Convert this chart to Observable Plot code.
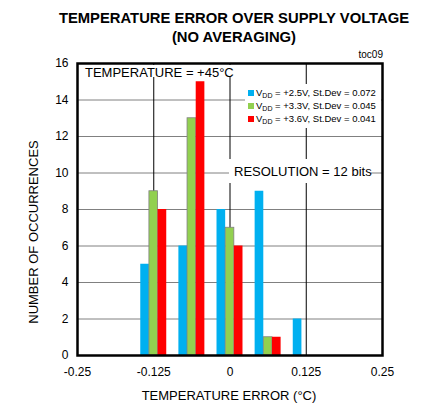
<!DOCTYPE html>
<html>
<head>
<meta charset="utf-8">
<script src="https://cdn.jsdelivr.net/npm/d3@7"></script>
<script src="https://cdn.jsdelivr.net/npm/@observablehq/plot@0.6"></script>
<style>
  html, body { margin: 0; padding: 0; background: #fff; }
  #chart { position: relative; width: 422px; height: 406px; }
</style>
</head>
<body>
<div id="chart"></div>
<script>
const FONT = "'Liberation Sans Narrow', 'Arial Narrow', 'Liberation Sans', Arial, sans-serif";

// ---- data ----
const bins = [-0.125, -0.0625, 0, 0.0625, 0.125];
const series = ["+2.5V", "+3.3V", "+3.6V"];
const stdevs = ["0.072", "0.045", "0.041"];
const colors = ["#00B0F0", "#92D050", "#FF0000"];
const counts25 = [5, 6, 8, 9, 2];
const counts33 = [9, 13, 7, 1, 0];
const counts36 = [8, 15, 6, 1, 0];
const xTicks = [-0.25, -0.125, 0, 0.125, 0.25];
const xTickLabels = ["-0.25", "-0.125", "0", "0.125", "0.25"];
const yTicks = [0, 2, 4, 6, 8, 10, 12, 14, 16];

const barW = 0.0142;
const allCounts = [counts25, counts33, counts36];
const rows = [];
series.forEach((s, si) => {
  bins.forEach((b, bi) => {
    const v = allCounts[si][bi];
    if (v > 0) rows.push({series: s, si, bin: b, count: v,
      x1: b + (si - 1.5) * barW, x2: b + (si - 0.5) * barW});
  });
});

const W = 422, H = 406;
const mL = 77, mR = 40, mT = 63, mB = 51;

const plot = Plot.plot({
  width: W, height: H,
  marginLeft: mL, marginRight: mR, marginTop: mT, marginBottom: mB,
  style: {fontFamily: FONT, fontSize: "12px", color: "#000", background: "#fff"},
  x: {domain: [-0.25, 0.25]},
  y: {domain: [0, 16]},
  color: {domain: series, range: colors},
  marks: [
    Plot.ruleY(yTicks.slice(1), {stroke: "#808080", strokeWidth: 1}),
    Plot.ruleX([-0.125, 0, 0.125], {stroke: "#000", strokeWidth: 1}),
    Plot.rectY(rows, {x1: "x1", x2: "x2", y: "count", fill: "series",
      stroke: d => d.si === 1 ? "#808080" : "none", strokeWidth: 0.8}),
    Plot.frame({stroke: "#000", strokeWidth: 2.5}),
    Plot.axisX({ticks: xTicks, tickFormat: d => xTickLabels[xTicks.indexOf(d)], tickSize: 0, tickPadding: 12, fontSize: 12, label: null}),
    Plot.axisY({ticks: yTicks, tickSize: 0, tickPadding: 9, fontSize: 12, label: null})
  ]
});
document.getElementById("chart").appendChild(plot);

const svg = d3.select(plot);

// white annotation boxes inserted beneath the bars, above the gridlines
const barsNode = svg.select("g[aria-label='rect']").node();
function boxBefore(x, y, w, h) {
  const r = document.createElementNS("http://www.w3.org/2000/svg", "rect");
  r.setAttribute("x", x); r.setAttribute("y", y);
  r.setAttribute("width", w); r.setAttribute("height", h);
  r.setAttribute("fill", "#fff");
  barsNode.parentNode.insertBefore(r, barsNode);
}
boxBefore(79, 65, 160, 12);
boxBefore(245, 84, 136, 44);
boxBefore(229, 159, 142, 24);

const g = svg.append("g").attr("font-family", FONT).attr("fill", "#000").attr("text-anchor", "start");

// Title
g.append("text").attr("x", 234).attr("y", 23).attr("text-anchor", "middle")
  .attr("font-size", 14.8).attr("font-weight", "bold").text("TEMPERATURE ERROR OVER SUPPLY VOLTAGE");
g.append("text").attr("x", 234).attr("y", 42).attr("text-anchor", "middle")
  .attr("font-size", 14.8).attr("font-weight", "bold").text("(NO AVERAGING)");
g.append("text").attr("x", 383).attr("y", 58).attr("text-anchor", "end")
  .attr("font-size", 10).text("toc09");

// Axis labels
g.append("text").attr("x", 229).attr("y", 400).attr("text-anchor", "middle")
  .attr("font-size", 13).text("TEMPERATURE ERROR (°C)");
g.append("text").attr("transform", "translate(38,232) rotate(-90)").attr("text-anchor", "middle")
  .attr("font-size", 13).text("NUMBER OF OCCURRENCES");

// Annotations
g.append("text").attr("x", 85).attr("y", 77).attr("font-size", 13).text("TEMPERATURE = +45°C");
g.append("text").attr("x", 234).attr("y", 176).attr("font-size", 13).text("RESOLUTION = 12 bits");

// Legend
series.forEach((s, i) => {
  const y = 96 + i * 13;
  g.append("rect").attr("x", 248).attr("y", y - 6).attr("width", 6).attr("height", 6).attr("fill", colors[i]);
  const t = g.append("text").attr("x", 256).attr("y", y).attr("font-size", 9.5);
  t.append("tspan").text("V");
  t.append("tspan").attr("font-size", 7).attr("dy", 2).text("DD");
  t.append("tspan").attr("dy", -2).text(` = ${s}, St.Dev = ${stdevs[i]}`);
});
</script>
</body>
</html>
